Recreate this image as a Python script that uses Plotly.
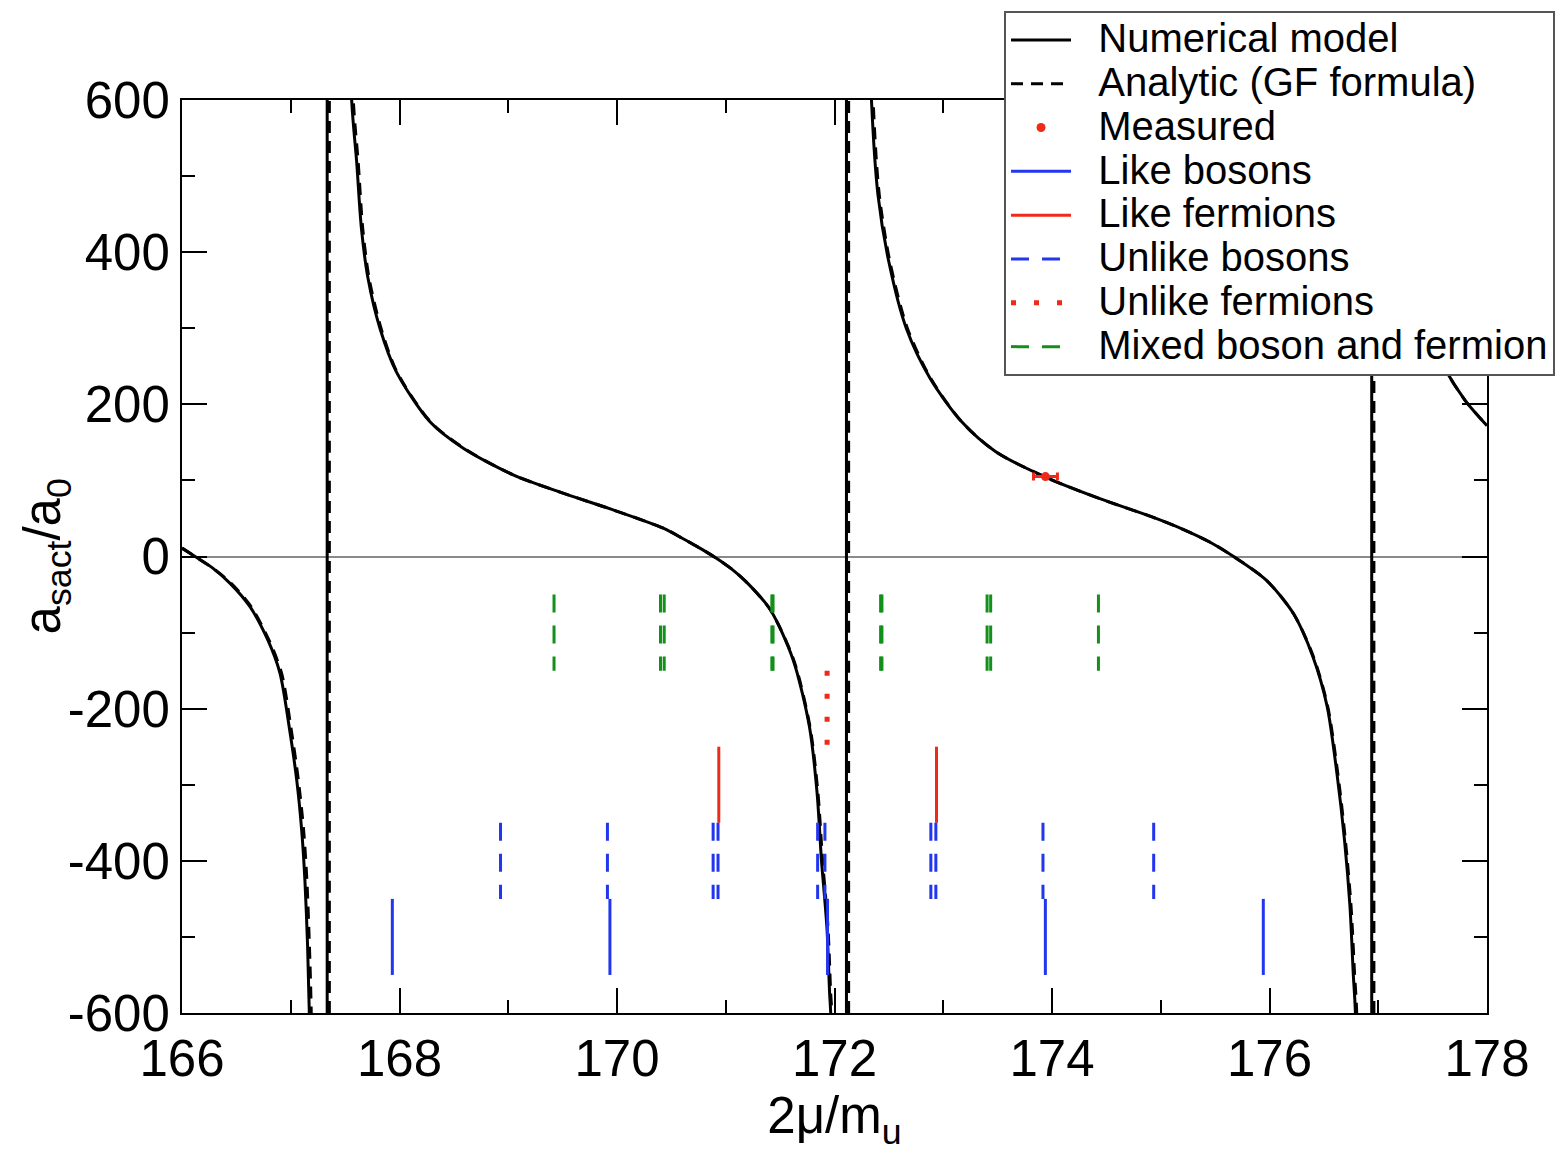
import plotly.graph_objects as go

# ---------------- data ----------------
# Numerical model (solid black), one array pair per branch between the resonances
num_b1_x = [166.0, 166.12, 166.28, 166.44, 166.625, 166.79, 166.90, 166.99, 167.055, 167.10,
            167.13, 167.155, 167.17, 167.25]
num_b1_y = [11, 0, -15, -35, -66, -110, -153, -228, -294, -359,
            -425, -513, -596, -1500]
num_b2_x = [167.45, 167.56, 167.606, 167.65, 167.71, 167.82, 167.97, 168.28, 168.59,
            169.05, 169.51, 169.97, 170.43, 170.60, 170.75, 170.90, 171.05, 171.20, 171.41,
            171.62, 171.77, 171.84, 171.88, 171.93, 171.955, 171.965, 172.03]
num_b2_y = [1200, 600, 519, 431, 366, 300, 243, 177, 142,
            107, 83, 61, 37, 24, 12, -1, -16, -35, -70,
            -136, -224, -311, -399, -487, -574, -600, -1500]
num_b3_x = [172.22, 172.34, 172.40, 172.50, 172.66, 172.88, 173.17, 173.48, 173.96,
            174.44, 174.92, 175.20, 175.45, 175.67, 175.97, 176.22, 176.40, 176.53, 176.62,
            176.69, 176.74, 176.77, 176.79, 176.86]
num_b3_y = [1300, 600, 475, 387, 300, 234, 177, 138, 103,
            76, 52, 36, 19, 0, -31, -75, -132, -197, -285,
            -373, -460, -548, -600, -1500]
num_b4_x = [177.05, 177.16, 177.30, 177.45, 177.60, 177.80, 178.0]
num_b4_y = [1300, 600, 390, 300, 250, 205, 172]
num_poles = [167.335, 172.11, 176.94]

# Analytic GF formula (dashed black), almost on top of the numerical curve
ana_b1_x = [166.0, 166.12, 166.28, 166.45, 166.635, 166.80, 166.915, 167.005, 167.07, 167.118,
            167.148, 167.172, 167.188, 167.27]
ana_b2_x = [167.47, 167.575, 167.62, 167.662, 167.72, 167.83, 167.975, 168.285, 168.595,
            169.05, 169.51, 169.97, 170.43, 170.60, 170.75, 170.90, 171.05, 171.20, 171.41,
            171.625, 171.775, 171.848, 171.89, 171.94, 171.965, 171.975, 172.05]
ana_b3_x = [172.24, 172.355, 172.412, 172.51, 172.67, 172.885, 173.17, 173.48, 173.96,
            174.44, 174.92, 175.20, 175.45, 175.67, 175.97, 176.22, 176.405, 176.535, 176.628,
            176.698, 176.75, 176.782, 176.802, 176.88]
ana_b4_x = [177.07, 177.17, 177.31, 177.45, 177.60, 177.80, 178.0]
ana_poles = [167.355, 172.13, 176.96]

# Measured point
meas_x = [173.94]
meas_y = [105]
meas_err = [0.11]

# Characteristic 2mu/m_u values of the isotope pairs and the bands they are drawn in
like_bosons_x = [167.934, 169.935, 171.936, 173.939, 175.943]
like_bosons_y = [-450, -550]
like_fermions_x = [170.936, 172.938]
like_fermions_y = [-250, -350]
unlike_bosons_x = [168.929, 169.912, 170.884, 170.929, 171.845, 171.912,
                   172.886, 172.932, 173.917, 174.935]
unlike_bosons_y = [-350, -450]
unlike_fermions_x = [171.932]
unlike_fermions_y = [-150, -250]
mixed_x = [169.421, 170.400, 170.434, 171.424, 171.435, 172.424, 172.436,
           173.403, 173.436, 174.427]
mixed_y = [-50, -150]

x_ticks = [166, 168, 170, 172, 174, 176, 178]
y_ticks = [-600, -400, -200, 0, 200, 400, 600]
y_limits = [-600, 600]

# ---------------- styling ----------------
BLUE = "#2236ee"
RED = "#ee2a1a"
GREEN = "#12901a"
FONT = "Liberation Sans, Arial, sans-serif"
POLE_REACH = 1e5


def join_branches(branches_x, branches_y, poles):
    """Branches separated by gaps; each resonance drawn as a vertical jump."""
    xs, ys = [], []
    for i, (bx, by) in enumerate(zip(branches_x, branches_y)):
        xs += list(bx) + [None]
        ys += list(by) + [None]
        if i < len(poles):
            xs += [poles[i], poles[i], None]
            ys += [-POLE_REACH, POLE_REACH, None]
    return xs, ys


def segments(xs, yr):
    sx, sy = [], []
    for v in xs:
        sx += [v, v, None]
        sy += [yr[0], yr[1], None]
    return sx, sy


def lname(label):
    return '<span style="font-size:40px">\u00a0\u00a0' + label + '</span>'


nx, ny = join_branches([num_b1_x, num_b2_x, num_b3_x, num_b4_x],
                       [num_b1_y, num_b2_y, num_b3_y, num_b4_y], num_poles)
ax_, ay_ = join_branches([ana_b1_x, ana_b2_x, ana_b3_x, ana_b4_x],
                         [num_b1_y, num_b2_y, num_b3_y, num_b4_y], ana_poles)

fig = go.Figure()

fig.add_trace(go.Scatter(x=nx, y=ny, mode="lines", name=lname("Numerical model"),
                         line=dict(color="black", width=3, shape="spline", smoothing=0.8),
                         connectgaps=False, legendrank=1))
fig.add_trace(go.Scatter(x=ax_, y=ay_, mode="lines", name=lname("Analytic (GF formula)"),
                         line=dict(color="black", width=3, dash="12px,8px",
                                   shape="spline", smoothing=0.8),
                         connectgaps=False, legendrank=2))
# draw the solid curve on top of the dashed one
fig.data = (fig.data[1], fig.data[0])

fig.add_trace(go.Scatter(x=meas_x, y=meas_y, mode="markers", name=lname("Measured"),
                         marker=dict(color=RED, size=9), legendrank=3,
                         error_x=dict(type="data", array=meas_err, color=RED,
                                      thickness=3, width=4)))

sx, sy = segments(like_bosons_x, like_bosons_y)
fig.add_trace(go.Scatter(x=sx, y=sy, mode="lines", name=lname("Like bosons"), legendrank=4,
                         line=dict(color=BLUE, width=3)))
sx, sy = segments(like_fermions_x, like_fermions_y)
fig.add_trace(go.Scatter(x=sx, y=sy, mode="lines", name=lname("Like fermions"), legendrank=5,
                         line=dict(color=RED, width=3)))
sx, sy = segments(unlike_bosons_x, unlike_bosons_y)
fig.add_trace(go.Scatter(x=sx, y=sy, mode="lines", name=lname("Unlike bosons"), legendrank=6,
                         line=dict(color=BLUE, width=3, dash="18px,13px")))
sx, sy = segments(unlike_fermions_x, unlike_fermions_y)
fig.add_trace(go.Scatter(x=sx, y=sy, mode="lines", name=lname("Unlike fermions"), legendrank=7,
                         line=dict(color=RED, width=5, dash="5px,18px")))
sx, sy = segments(mixed_x, mixed_y)
fig.add_trace(go.Scatter(x=sx, y=sy, mode="lines", name=lname("Mixed boson and fermion"),
                         legendrank=8, line=dict(color=GREEN, width=3, dash="18px,13px")))

axis_common = dict(
    showline=True, linecolor="black", linewidth=2, mirror="allticks",
    ticks="inside", ticklen=25, tickwidth=2, tickcolor="black",
    showgrid=False, tickfont=dict(family=FONT, size=51, color="black"),
)

fig.update_xaxes(range=[166, 178], tickvals=x_ticks, ticktext=[str(v) for v in x_ticks],
                 minor=dict(dtick=1, tick0=166, ticks="inside", ticklen=13, tickwidth=2,
                            tickcolor="black", showgrid=False),
                 zeroline=False,
                 title=dict(text="2μ/m<sub>u</sub>", font=dict(family=FONT, size=51, color="black"),
                            standoff=6),
                 **axis_common)
fig.update_yaxes(range=y_limits, tickvals=y_ticks, ticktext=[str(v) for v in y_ticks],
                 minor=dict(dtick=100, tick0=0, ticks="inside", ticklen=13, tickwidth=2,
                            tickcolor="black", showgrid=False),
                 zeroline=True, zerolinecolor="#8a8a8a", zerolinewidth=2,
                 **axis_common)

fig.add_annotation(text="a<sub>sact</sub>/a<sub>0</sub>", xref="paper", yref="paper",
                   x=-0.1035, y=0.5, xanchor="center", yanchor="middle", textangle=-90,
                   showarrow=False, font=dict(family=FONT, size=51, color="black"))

fig.update_layout(
    width=1560, height=1158,
    margin=dict(l=182, r=73, t=100, b=145, autoexpand=False),
    paper_bgcolor="white", plot_bgcolor="white",
    showlegend=True,
    legend=dict(
        traceorder="normal",
        x=0.6299, y=1.0975, xanchor="left", yanchor="top",
        bgcolor="white", bordercolor="#555555", borderwidth=2,
        font=dict(family=FONT, size=31.4, color="black"),
        itemwidth=60, tracegroupgap=0,
    ),
)

fig.write_html("out.html")
